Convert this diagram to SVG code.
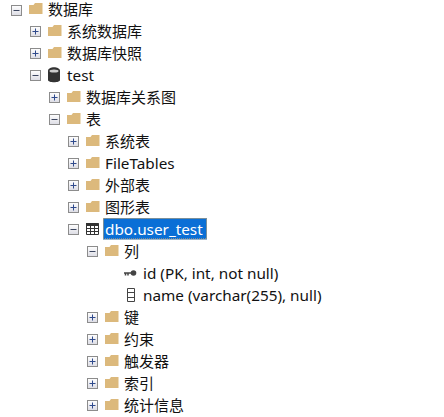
<svg xmlns="http://www.w3.org/2000/svg" width="444" height="417" viewBox="0 0 444 417">
<style>
text{font-family:"Noto Sans","Noto Sans CJK SC",sans-serif;font-size:15px;fill:#111}
text.l{font-size:15.3px}
.b{fill:url(#bg);stroke:#8c8c8c;stroke-width:1}
.p{stroke:#2f4a8c;stroke-width:1;fill:none}
.m{stroke:#3c4660;stroke-width:1;fill:none}
</style>
<defs>
<linearGradient id="bg" x1="0" y1="0" x2="0" y2="1"><stop offset="0" stop-color="#fff"/><stop offset="1" stop-color="#dcdce4"/></linearGradient>
<g id="folder"><path d="M0 -4V5H13.500V-6H6L4.500 -4Z" fill="#dcb97c"/></g>
<g id="plus"><rect class="b" x="-5" y="-5" width="10" height="10"/><path class="p" d="M-3 0H3M0 -3V3"/></g>
<g id="minus"><rect class="b" x="-5" y="-5" width="10" height="10"/><path class="m" d="M-3 0H3"/></g>
</defs>
<rect width="444" height="417" fill="#fff"/>
<g id="connectors"/>
<g id="n1"><use href="#minus" x="16.500" y="10.500"/><use href="#folder" x="29" y="9"/><text x="48" y="15">数据库</text></g>
<g id="n2"><use href="#plus" x="35.500" y="31.500"/><use href="#folder" x="48" y="31"/><text x="67" y="37">系统数据库</text></g>
<g id="n3"><use href="#plus" x="35.500" y="53.500"/><use href="#folder" x="48" y="53"/><text x="67" y="59">数据库快照</text></g>
<g id="n4"><use href="#minus" x="35.500" y="75.500"/><path d="M48 71c0-5 12-5 12 0v9c0 3-12 3-12 0z" fill="#333"/><ellipse cx="54" cy="71" rx="4.500" ry="1.500" fill="#ccc"/><text class="l" x="67" y="81">test</text></g>
<g id="n5"><use href="#plus" x="54.500" y="97.500"/><use href="#folder" x="67" y="97"/><text x="86" y="103">数据库关系图</text></g>
<g id="n6"><use href="#minus" x="54.500" y="119.500"/><use href="#folder" x="67" y="119"/><text x="86" y="125">表</text></g>
<g id="n7"><use href="#plus" x="73.500" y="141.500"/><use href="#folder" x="86" y="141"/><text x="105" y="147">系统表</text></g>
<g id="n8"><use href="#plus" x="73.500" y="163.500"/><use href="#folder" x="86" y="163"/><text class="l" x="105" y="169">FileTables</text></g>
<g id="n9"><use href="#plus" x="73.500" y="185.500"/><use href="#folder" x="86" y="185"/><text x="105" y="191">外部表</text></g>
<g id="n10"><use href="#plus" x="73.500" y="207.500"/><use href="#folder" x="86" y="207"/><text x="105" y="213">图形表</text></g>
<g id="n11"><use href="#minus" x="73.500" y="229.500"/><rect x="86" y="223" width="12.500" height="3" fill="#333"/><path d="M86.500 223.500h12v11h-12zM86.500 228.500h12M86.500 231.500h12M90.500 223.500v11M94.500 223.500v11" fill="none" stroke="#333" stroke-width="1"/><rect x="103" y="218" width="104" height="21.500" fill="#0a6fd6"/><rect x="103.500" y="218.500" width="103" height="20.500" fill="none" stroke="#e8b060" stroke-dasharray="1 1"/><text class="l" x="105" y="235" style="fill:#fff">dbo.user_test</text></g>
<g id="n12"><use href="#minus" x="92.500" y="251.500"/><use href="#folder" x="105" y="251"/><text x="124" y="257">列</text></g>
<g id="n13"><circle cx="133.500" cy="273" r="2.800" fill="#444"/><path d="M124 273h8M125.500 273v2.500M128 273v2.500" stroke="#444" stroke-width="1.500" fill="none"/><text class="l" x="143" y="279">id (PK, int, not null)</text></g>
<g id="n14"><path d="M127.500 288.500h7v13h-7zM127.500 292.500h7M127.500 297.500h7" fill="none" stroke="#444"/><text class="l" x="143" y="301">name (varchar(255), null)</text></g>
<g id="n15"><use href="#plus" x="92.500" y="317.500"/><use href="#folder" x="105" y="317"/><text x="124" y="323">键</text></g>
<g id="n16"><use href="#plus" x="92.500" y="339.500"/><use href="#folder" x="105" y="339"/><text x="124" y="345">约束</text></g>
<g id="n17"><use href="#plus" x="92.500" y="361.500"/><use href="#folder" x="105" y="361"/><text x="124" y="367">触发器</text></g>
<g id="n18"><use href="#plus" x="92.500" y="383.500"/><use href="#folder" x="105" y="383"/><text x="124" y="389">索引</text></g>
<g id="n19"><use href="#plus" x="92.500" y="405.500"/><use href="#folder" x="105" y="405"/><text x="124" y="411">统计信息</text></g>
</svg>
